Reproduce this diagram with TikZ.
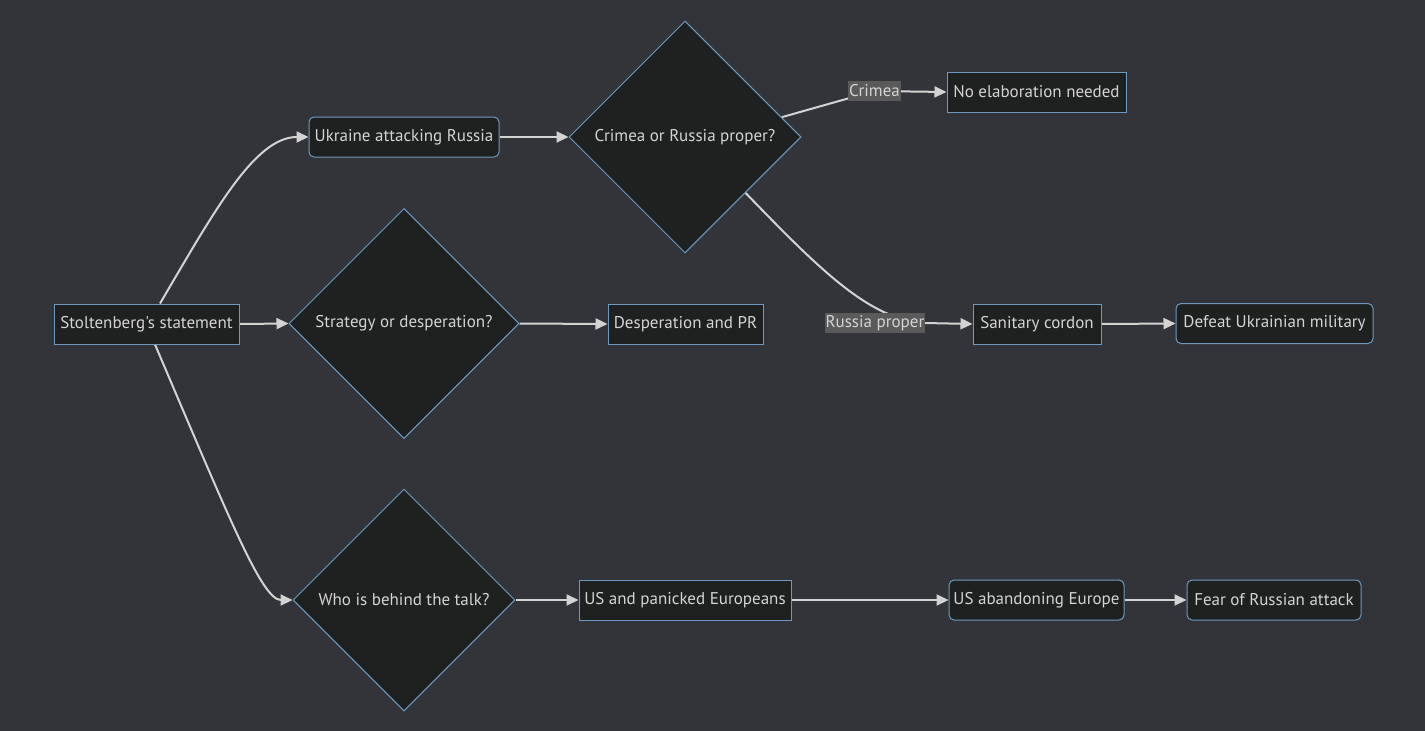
\documentclass[tikz,border=0pt]{standalone}
\usepackage{fontspec}
\setmainfont{PT Sans}[Ligatures=TeXOff]
\usetikzlibrary{shapes.geometric,arrows.meta,calc}
\definecolor{bgc}{HTML}{333439}
\definecolor{nodefill}{HTML}{1F2020}
\definecolor{bord}{HTML}{6E9AC2}
\definecolor{txt}{HTML}{D4D4D4}
\definecolor{edgec}{HTML}{D3D3D3}
\definecolor{lblbg}{HTML}{5A5A5A}
\pgfdeclarelayer{bgl}
\pgfdeclarelayer{edgel}
\pgfsetlayers{bgl,edgel,main}
\tikzset{
  fnt/.style={font=\fontsize{17}{20}\selectfont},
  box/.style={draw=bord, fill=nodefill, text=txt, line width=1pt, minimum height=40pt, inner sep=0pt, fnt},
  rbox/.style={box, rounded corners=5pt},
  dia/.style={diamond, aspect=1, draw=bord, fill=nodefill, text=txt, line width=1pt, inner sep=0pt, fnt},
  lbl/.style={fill=lblbg, text=txt, inner xsep=1pt, inner ysep=0pt, minimum height=20pt, fnt},
  edge/.style={draw=edgec, line width=2pt, -{Triangle[length=12pt,width=11pt]}}
}
\begin{document}
\begin{tikzpicture}[x=1pt,y=-1pt]
\begin{pgfonlayer}{bgl}
\fill[bgc] (0,0) rectangle (1425,731);
\end{pgfonlayer}
\useasboundingbox (0,0) rectangle (1425,731);

\node[box,minimum width=185pt] (st) at (146.5,324) {Stoltenberg's statement};
\node[rbox,minimum width=190pt] (ua) at (404,137) {Ukraine attacking Russia};
\node[dia,minimum width=232pt,minimum height=232pt] (cr) at (685,137) {Crimea or Russia proper?};
\node[box,minimum width=179pt] (ne) at (1036.5,92) {No elaboration needed};
\node[dia,minimum width=230pt,minimum height=230pt] (sd) at (404,323.5) {Strategy or desperation?};
\node[box,minimum width=155pt] (dp) at (685.5,324) {Desperation and PR};
\node[box,minimum width=128pt] (sc) at (1037,324) {Sanitary cordon};
\node[rbox,minimum width=197pt] (du) at (1274.5,323.5) {Defeat Ukrainian military};
\node[dia,minimum width=222pt,minimum height=222pt] (wb) at (404,600) {Who is behind the talk?};
\node[box,minimum width=212pt] (up) at (685,600) {US and panicked Europeans};
\node[rbox,minimum width=175pt] (ab) at (1036.5,600) {US abandoning Europe};
\node[rbox,minimum width=174pt] (fr) at (1274,600) {Fear of Russian attack};

\node[lbl] (lc) at (874.5,91) {Crimea};
\node[lbl] (lr) at (875,323) {Russia proper};

\coordinate (c1) at ($(cr.east)!0.17!(cr.north)$);
\coordinate (c2) at ($(cr.east)!0.48!(cr.south)$);

\begin{pgfonlayer}{edgel}
\draw[edge] ($(st.north)+(13.5,0)$) .. controls (215,210) and (255,137) .. (ua.west);
\draw[edge] (st.east) -- (sd.west);
\draw[edge] ($(st.south)+(8.5,0)$) .. controls (230,520) and (262,600) .. (wb.west);
\draw[edge] (ua.east) -- (cr.west);
\draw[edge] (c1) -- (lc.center) -- (ne.west);
\draw[edge] (c2) .. controls (820,270) and (870,320) .. (925,323) -- (sc.west);
\draw[edge] (sd.east) -- (dp.west);
\draw[edge] (sc.east) -- (du.west);
\draw[edge] (wb.east) -- (up.west);
\draw[edge] (up.east) -- (ab.west);
\draw[edge] (ab.east) -- (fr.west);
\end{pgfonlayer}
\end{tikzpicture}
\end{document}
